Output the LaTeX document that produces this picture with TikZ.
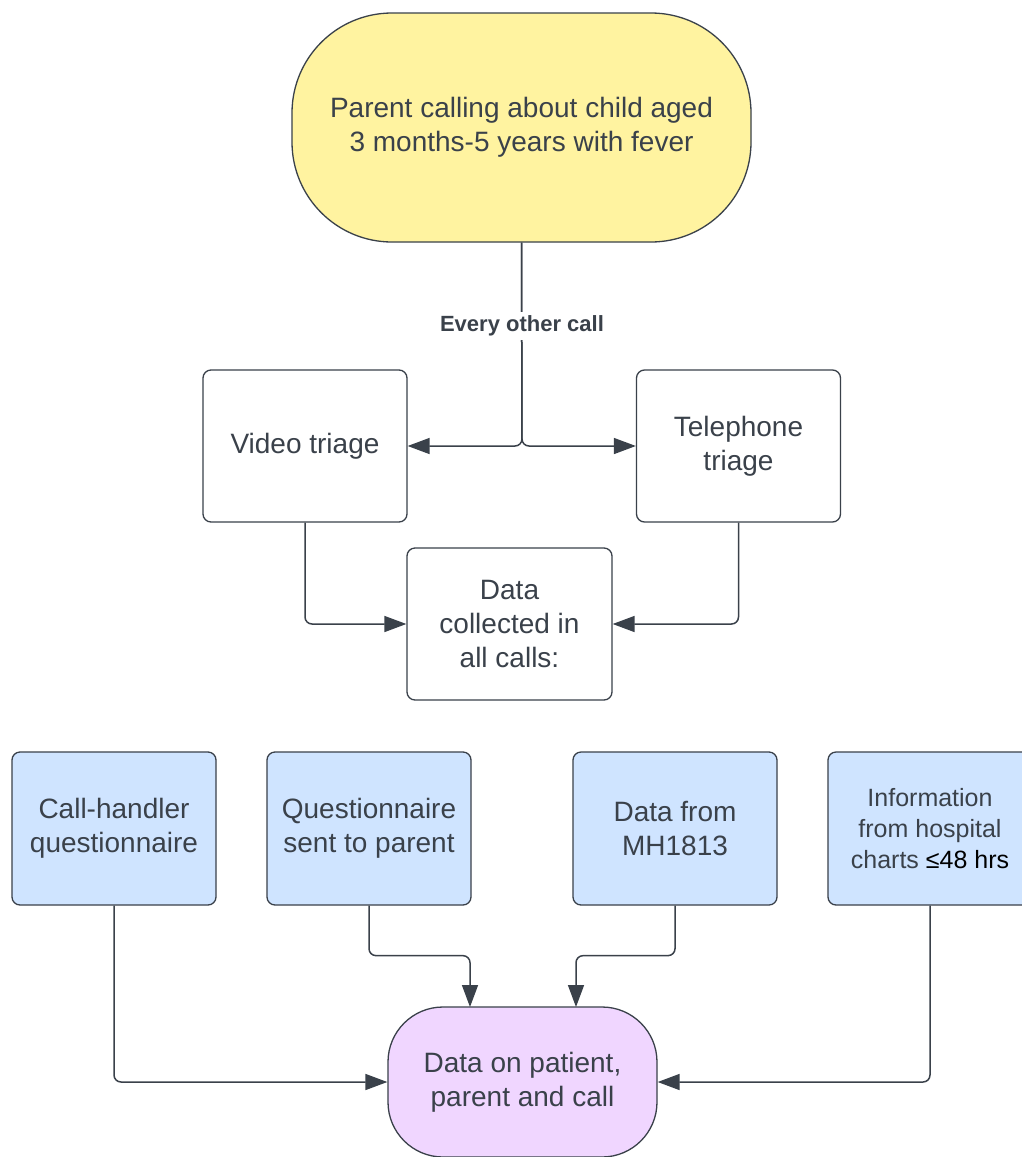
\documentclass[tikz,border=0pt]{standalone}
\usepackage{fontspec}
\setmainfont{Liberation Sans}
\usetikzlibrary{arrows.meta,calc}
\definecolor{ink}{RGB}{58,65,74}
\definecolor{yell}{RGB}{255,243,160}
\definecolor{lblue}{RGB}{207,228,255}
\definecolor{lpurp}{RGB}{240,214,255}
\begin{document}
\begin{tikzpicture}[x=1pt,y=-1pt,
  box/.style={draw=ink, line width=1.3pt, rounded corners=8pt, align=center, text=ink,
    font=\fontsize{28}{34}\selectfont, inner sep=0pt},
  whitebox/.style={box, fill=white},
  bluebox/.style={box, fill=lblue, minimum width=204pt, minimum height=153pt},
  conn/.style={draw=ink, line width=1.5pt, rounded corners=7pt, -{Triangle[length=22pt,width=16pt]}},
  plainline/.style={draw=ink, line width=1.5pt}
]
\useasboundingbox (0,0) rectangle (1021,1157);
\fill[white] (0,0) rectangle (1021,1157);

\node[box, fill=yell, rounded corners=100pt, minimum width=459pt, minimum height=229pt]
  (top) at (521.5,127.5) {Parent calling about child aged\\3 months-5 years with fever};

\node[whitebox, minimum width=204pt, minimum height=152pt] (video) at (305,446) {Video triage};
\node[whitebox, minimum width=204pt, minimum height=152pt] (tel) at (738.5,446) {Telephone\\triage};
\node[whitebox, minimum width=205pt, minimum height=152pt] (data) at (509.5,624) {Data\\collected in\\all calls:};

\node[bluebox] (b1) at (114,828.5) {Call-handler\\questionnaire};
\node[bluebox] (b2) at (369,828.5) {Questionnaire\\sent to parent};
\node[bluebox] (b3) at (675,828.5) {Data from\\MH1813};
\node[bluebox, font=\fontsize{25}{31}\selectfont] (b4) at (930,828.5) {Information\\from hospital\\charts \textcolor{black}{≤48 hrs}};

\node[box, fill=lpurp, rounded corners=55pt, minimum width=269pt, minimum height=150pt]
  (bot) at (522.5,1082) {Data on patient,\\parent and call};

% split from top node
\coordinate (split) at (522,446);
\draw[conn] (top.south) -- (split) -- (video.east);
\draw[conn] (top.south) -- (split) -- (tel.west);
\node[fill=white, text=ink, font=\bfseries\fontsize{22}{26}\selectfont, inner sep=4pt] (lbl) at (522,326) {Every other call};

% into data
\draw[conn] (video.south) |- (data.west);
\draw[conn] (tel.south) |- (data.east);

% into bottom node
\coordinate (in2) at (470,1007);
\coordinate (in3) at (576,1007);
\draw[conn] (b1.south) |- (bot.west);
\draw[conn] (b4.south) |- (bot.east);
\draw[conn] (b2.south) -- ++(0,50) -| (in2);
\draw[conn] (b3.south) -- ++(0,50) -| (in3);
\end{tikzpicture}
\end{document}
